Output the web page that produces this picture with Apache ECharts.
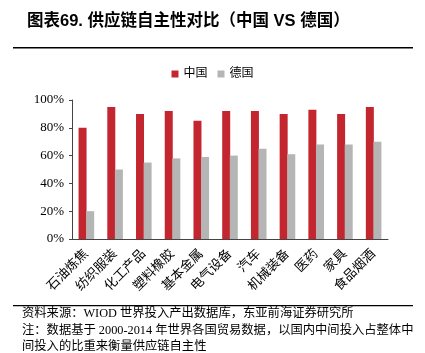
<!DOCTYPE html>
<html><head><meta charset="utf-8">
<script src="https://cdn.jsdelivr.net/npm/echarts@6/dist/echarts.min.js"></script>
<style>html,body{margin:0;padding:0;background:#fff}#c{width:425px;height:353px}</style>
</head><body><div id="c"></div>
<script>
const categories = ['石油炼焦','纺织服装','化工产品','塑料橡胶','基本金属','电气设备','汽车','机械装备','医药','家具','食品烟酒'];
const china = [80, 95, 90, 92, 85, 92, 92, 90, 93, 90, 95];
const germany = [20, 50, 55, 58, 59, 60, 65, 61, 68, 68, 70];
const yTicks = [0, 20, 40, 60, 80, 100];

const serif = '"Liberation Serif","Times New Roman","Noto Sans CJK SC",serif';
const chart = echarts.init(document.getElementById('c'));
chart.setOption({
  animation: false,
  backgroundColor: '#fff',
  title: {
    text: '图表69. 供应链自主性对比（中国 VS 德国）',
    left: 22, top: 8,
    textStyle: {fontSize: 16.5, fontWeight: 'bold', color: '#000', fontFamily: '"Liberation Sans","Noto Sans CJK SC",sans-serif'}
  },
  legend: {
    top: 63, left: 'center',
    itemWidth: 7, itemHeight: 7, itemGap: 10,
    icon: 'rect',
    textStyle: {fontSize: 12, color: '#000', fontFamily: serif},
    data: ['中国','德国']
  },
  grid: {left: 72, right: 37, top: 100, bottom: 114},
  xAxis: {
    type: 'category', data: categories,
    axisLine: {lineStyle: {color: '#444', width: 1}},
    axisTick: {show: false},
    axisLabel: {rotate: 45, interval: 0, fontSize: 13, color: '#000', margin: 13, fontFamily: serif}
  },
  yAxis: {
    type: 'value', min: 0, max: 100, interval: 20,
    axisLine: {show: true, lineStyle: {color: '#444'}},
    axisTick: {show: true, inside: false, length: 3, lineStyle: {color: '#444'}},
    splitLine: {show: false},
    axisLabel: {formatter: v => yTicks.includes(v) ? v + '%' : '', fontSize: 13, color: '#000', margin: 8, fontFamily: serif}
  },
  series: [
    {name: '中国', type: 'bar', data: china, barWidth: 8, barGap: '-5%', itemStyle: {color: '#C3262F'}},
    {name: '德国', type: 'bar', data: germany, barWidth: 8, itemStyle: {color: '#B5B5B5'}}
  ],
  graphic: [
    {type: 'rect', shape: {x: 13, y: 47, width: 400, height: 1.5}, style: {fill: '#000'}},
    {type: 'rect', shape: {x: 13, y: 305, width: 400, height: 1.2}, style: {fill: '#000'}},
    {type: 'text', left: 22, top: 308, style: {text: '资料来源：WIOD 世界投入产出数据库，东亚前海证券研究所', fontSize: 12.3, fill: '#000', fontFamily: serif}},
    {type: 'text', left: 22, top: 325, style: {text: '注：数据基于 2000-2014 年世界各国贸易数据，以国内中间投入占整体中', fontSize: 12.3, fill: '#000', fontFamily: serif}},
    {type: 'text', left: 22, top: 341, style: {text: '间投入的比重来衡量供应链自主性', fontSize: 12.3, fill: '#000', fontFamily: serif}}
  ]
});
</script></body></html>
